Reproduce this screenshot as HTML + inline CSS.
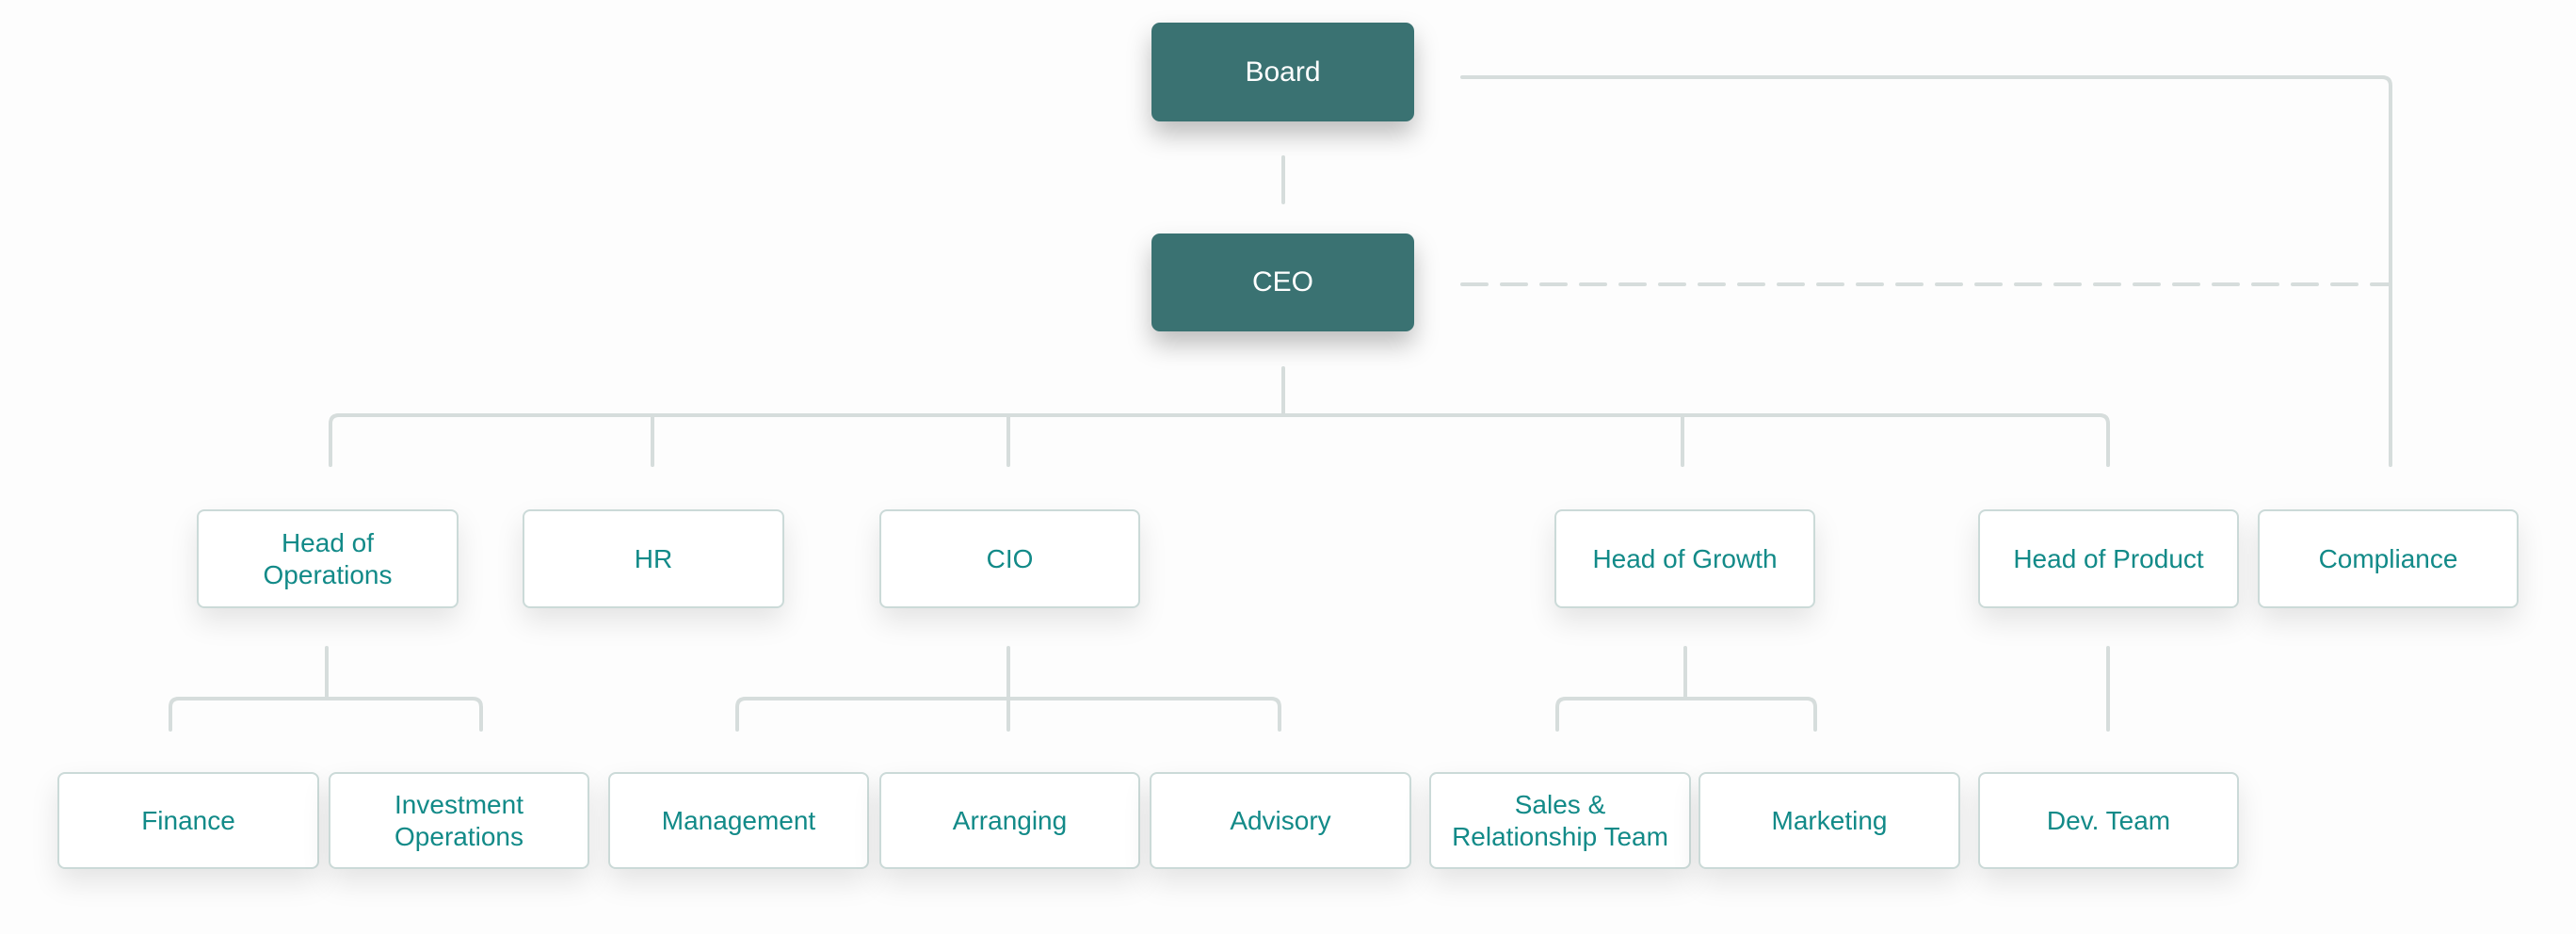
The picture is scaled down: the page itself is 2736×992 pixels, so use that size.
<!DOCTYPE html>
<html><head><meta charset="utf-8"><style>
body{margin:0;width:2736px;height:992px;background:#fdfdfd;position:relative;overflow:hidden;font-family:"Liberation Sans",sans-serif}
.b{position:absolute;box-sizing:border-box;display:flex;align-items:center;justify-content:center;text-align:center;font-size:28px;line-height:34px}
.d{background:#3a7272;color:#fff;border-radius:9px;box-shadow:0 14px 26px rgba(0,0,0,.25);font-size:30px}
.w{background:#fff;color:#128a88;border:2.5px solid #cbdad8;border-radius:8px;box-shadow:0 14px 30px rgba(0,0,0,.10)}
svg{position:absolute;left:0;top:0}
</style></head><body>
<svg width="2736" height="992" fill="none" stroke="#d6dddc" stroke-width="4" stroke-linecap="round">
<path d="M1363 167V215"/>
<path d="M1553 82H2530Q2539 82 2539 91V494"/>
<path d="M1553 302H2539" stroke-dasharray="26 16"/>
<path d="M1363 391V441"/>
<path d="M351 494V450Q351 441 360 441H2230Q2239 441 2239 450V494"/>
<path d="M693 441V494M1071 441V494M1787 441V494"/>
<path d="M347 688V742"/>
<path d="M181 775V751Q181 742 190 742H502Q511 742 511 751V775"/>
<path d="M1071 688V775"/>
<path d="M783 775V751Q783 742 792 742H1350Q1359 742 1359 751V775"/>
<path d="M1790 688V742"/>
<path d="M1654 775V751Q1654 742 1663 742H1919Q1928 742 1928 751V775"/>
<path d="M2239 688V775"/>
</svg>
<div class="b d" style="left:1223px;top:24px;width:279px;height:105px">Board</div>
<div class="b d" style="left:1223px;top:248px;width:279px;height:104px">CEO</div>
<div class="b w" style="left:209px;top:541px;width:278px;height:105px">Head of<br>Operations</div>
<div class="b w" style="left:555px;top:541px;width:278px;height:105px">HR</div>
<div class="b w" style="left:934px;top:541px;width:277px;height:105px">CIO</div>
<div class="b w" style="left:1651px;top:541px;width:277px;height:105px">Head of Growth</div>
<div class="b w" style="left:2101px;top:541px;width:277px;height:105px">Head of Product</div>
<div class="b w" style="left:2398px;top:541px;width:277px;height:105px">Compliance</div>
<div class="b w" style="left:61px;top:820px;width:278px;height:103px">Finance</div>
<div class="b w" style="left:349px;top:820px;width:277px;height:103px">Investment<br>Operations</div>
<div class="b w" style="left:646px;top:820px;width:277px;height:103px">Management</div>
<div class="b w" style="left:934px;top:820px;width:277px;height:103px">Arranging</div>
<div class="b w" style="left:1221px;top:820px;width:278px;height:103px">Advisory</div>
<div class="b w" style="left:1518px;top:820px;width:278px;height:103px">Sales &amp;<br>Relationship Team</div>
<div class="b w" style="left:1804px;top:820px;width:278px;height:103px">Marketing</div>
<div class="b w" style="left:2101px;top:820px;width:277px;height:103px">Dev. Team</div>
</body></html>
